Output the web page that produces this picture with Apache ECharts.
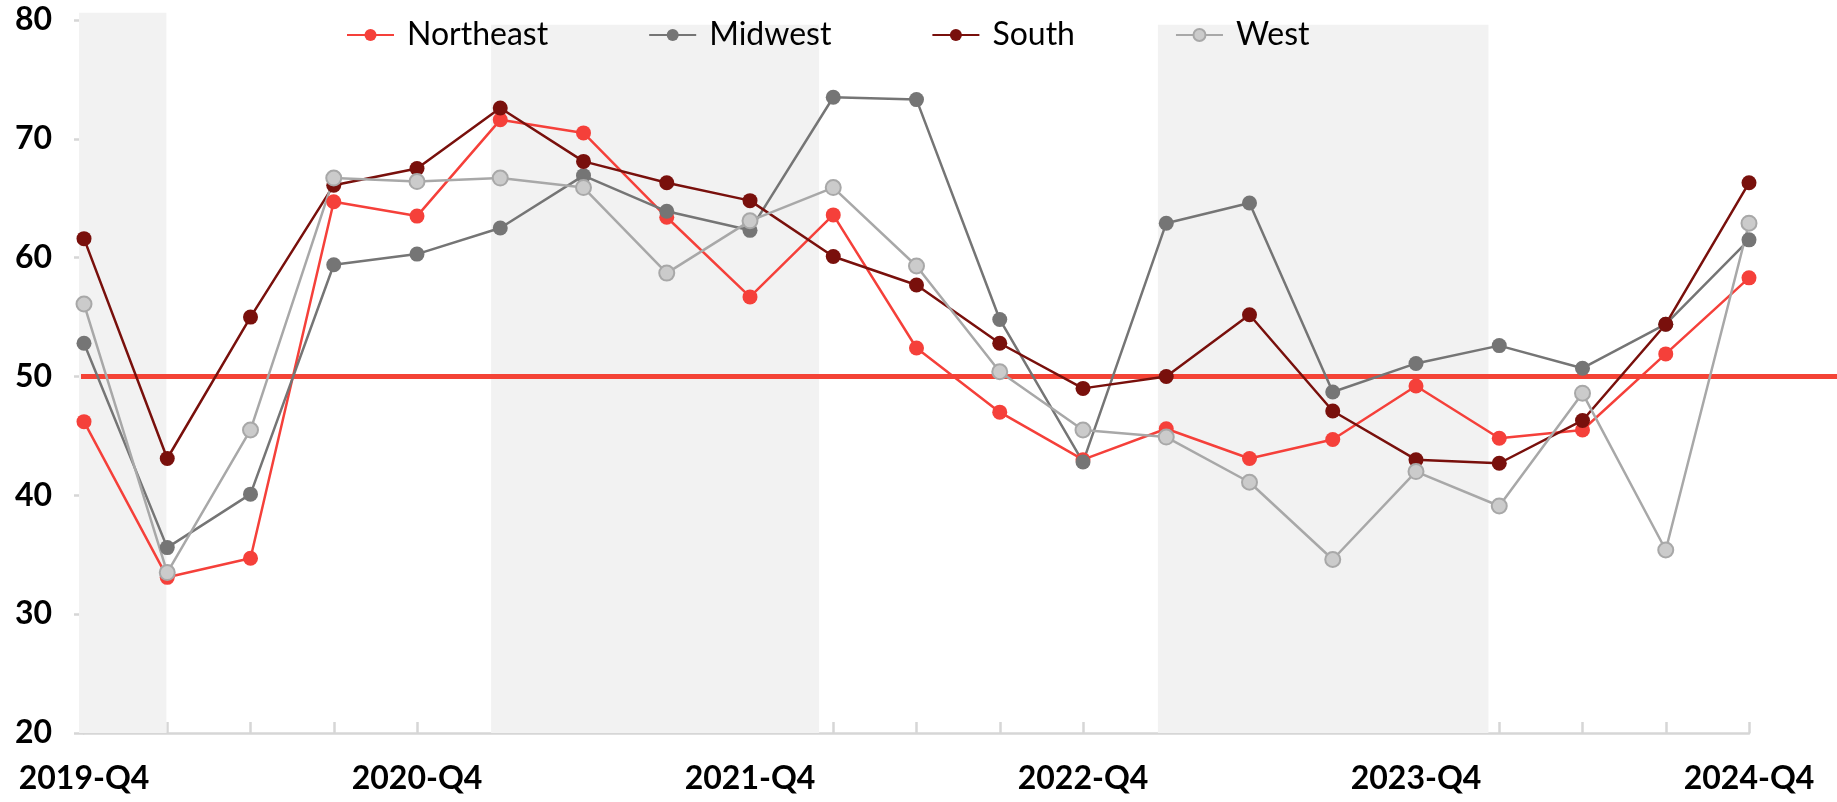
<!DOCTYPE html>
<html>
<head>
<meta charset="utf-8">
<script src="https://cdn.jsdelivr.net/npm/echarts@6/dist/echarts.min.js"></script>
<style>
html,body{margin:0;padding:0;background:#fff;}
#chart{width:1837px;height:802px;}
</style>
</head>
<body>
<div id="chart"></div>
<script>
const categories = ['2019-Q4','2020-Q1','2020-Q2','2020-Q3','2020-Q4','2021-Q1','2021-Q2','2021-Q3','2021-Q4','2022-Q1','2022-Q2','2022-Q3','2022-Q4','2023-Q1','2023-Q2','2023-Q3','2023-Q4','2024-Q1','2024-Q2','2024-Q3','2024-Q4'];
const northeast = [46.2, 33.1, 34.7, 64.7, 63.5, 71.6, 70.5, 63.4, 56.7, 63.6, 52.4, 47.0, 43.0, 45.6, 43.1, 44.7, 49.2, 44.8, 45.5, 51.9, 58.3];
const midwest   = [52.8, 35.6, 40.1, 59.4, 60.3, 62.5, 66.9, 63.9, 62.3, 73.5, 73.3, 54.8, 42.8, 62.9, 64.6, 48.7, 51.1, 52.6, 50.7, 54.4, 61.5];
const south     = [61.6, 43.1, 55.0, 66.1, 67.5, 72.6, 68.1, 66.3, 64.8, 60.1, 57.7, 52.8, 49.0, 50.0, 55.2, 47.1, 43.0, 42.7, 46.3, 54.4, 66.3];
const west      = [56.1, 33.5, 45.5, 66.7, 66.4, 66.7, 65.9, 58.7, 63.1, 65.9, 59.3, 50.4, 45.5, 44.9, 41.1, 34.6, 42.0, 39.1, 48.6, 35.4, 62.9];
const yTicks = [20, 30, 40, 50, 60, 70, 80];
const referenceValue = 50;
// shaded periods: [start index, end index, top value]
const shadeBands = [[-0.06, 0.99, 80.6], [4.89, 8.83, 79.6], [12.9, 16.87, 79.6]];

const FONT = 'Lato';
const chart = echarts.init(document.getElementById('chart'), null, {renderer: 'canvas'});

function lineSeries(name, data, color, fill) {
  return {
    name: name, type: 'line', data: data,
    xAxisIndex: 0, yAxisIndex: 0,
    symbol: 'circle', symbolSize: 15,
    lineStyle: {color: color, width: 2.5},
    itemStyle: {color: fill || color, borderColor: color, borderWidth: fill ? 2 : 0},
    emphasis: {disabled: true},
    z: 5
  };
}

const option = {
  animation: false,
  backgroundColor: '#ffffff',
  grid: [
    {left: 84, right: 88, top: 20, bottom: 69},
    {left: 81, right: 0, top: 20, bottom: 69}
  ],
  legend: {
    data: ['Northeast', 'Midwest', 'South', 'West'],
    left: 341, top: 14,
    itemWidth: 47, itemHeight: 15, itemGap: 100,
    textStyle: {fontFamily: FONT, fontSize: 32, color: '#000', padding: [0, 0, 0, 8]}
  },
  xAxis: [
    {
      type: 'category', data: categories, boundaryGap: false, gridIndex: 0,
      axisLine: {lineStyle: {color: '#d6d6d6', width: 2.5}},
      axisTick: {show: true, inside: true, length: 11, interval: 0, lineStyle: {color: '#d6d6d6', width: 2.5}},
      axisLabel: {interval: 3, fontFamily: FONT, fontWeight: 'bold', fontSize: 32, color: '#000', margin: 30},
      splitLine: {show: false}
    },
    {type: 'value', min: 0, max: categories.length - 1, gridIndex: 0, show: false},
    {type: 'value', min: 0, max: 1, gridIndex: 1, show: false}
  ],
  yAxis: [
    {
      type: 'value', min: yTicks[0], max: yTicks[yTicks.length - 1], interval: 10, gridIndex: 0,
      axisLine: {show: true, lineStyle: {color: '#d6d6d6', width: 2.5}},
      axisTick: {show: true, length: 10, lineStyle: {color: '#d6d6d6', width: 2.5}},
      axisLabel: {fontFamily: FONT, fontWeight: 'bold', fontSize: 32, color: '#000', margin: 32},
      splitLine: {show: false}
    },
    {type: 'value', min: yTicks[0], max: yTicks[yTicks.length - 1], gridIndex: 1, show: false}
  ],
  series: [
    {
      type: 'custom', xAxisIndex: 1, yAxisIndex: 0, z: 1, silent: true, clip: false,
      data: shadeBands,
      renderItem: function (params, api) {
        const p0 = api.coord([api.value(0), api.value(2)]);
        const p1 = api.coord([api.value(1), yTicks[0]]);
        return {type: 'rect', shape: {x: p0[0], y: p0[1], width: p1[0] - p0[0], height: p1[1] - p0[1]}, style: {fill: '#f2f2f2'}};
      }
    },
    {
      type: 'line', xAxisIndex: 2, yAxisIndex: 1, z: 3, silent: true,
      data: [[0, referenceValue], [1, referenceValue]],
      symbol: 'none', lineStyle: {color: '#f44336', width: 5}
    },
    lineSeries('Northeast', northeast, '#f5403a'),
    lineSeries('Midwest', midwest, '#757575'),
    lineSeries('South', south, '#79100c'),
    lineSeries('West', west, '#a8a8a8', '#cbcbcb')
  ]
};
chart.setOption(option);
</script>
</body>
</html>
